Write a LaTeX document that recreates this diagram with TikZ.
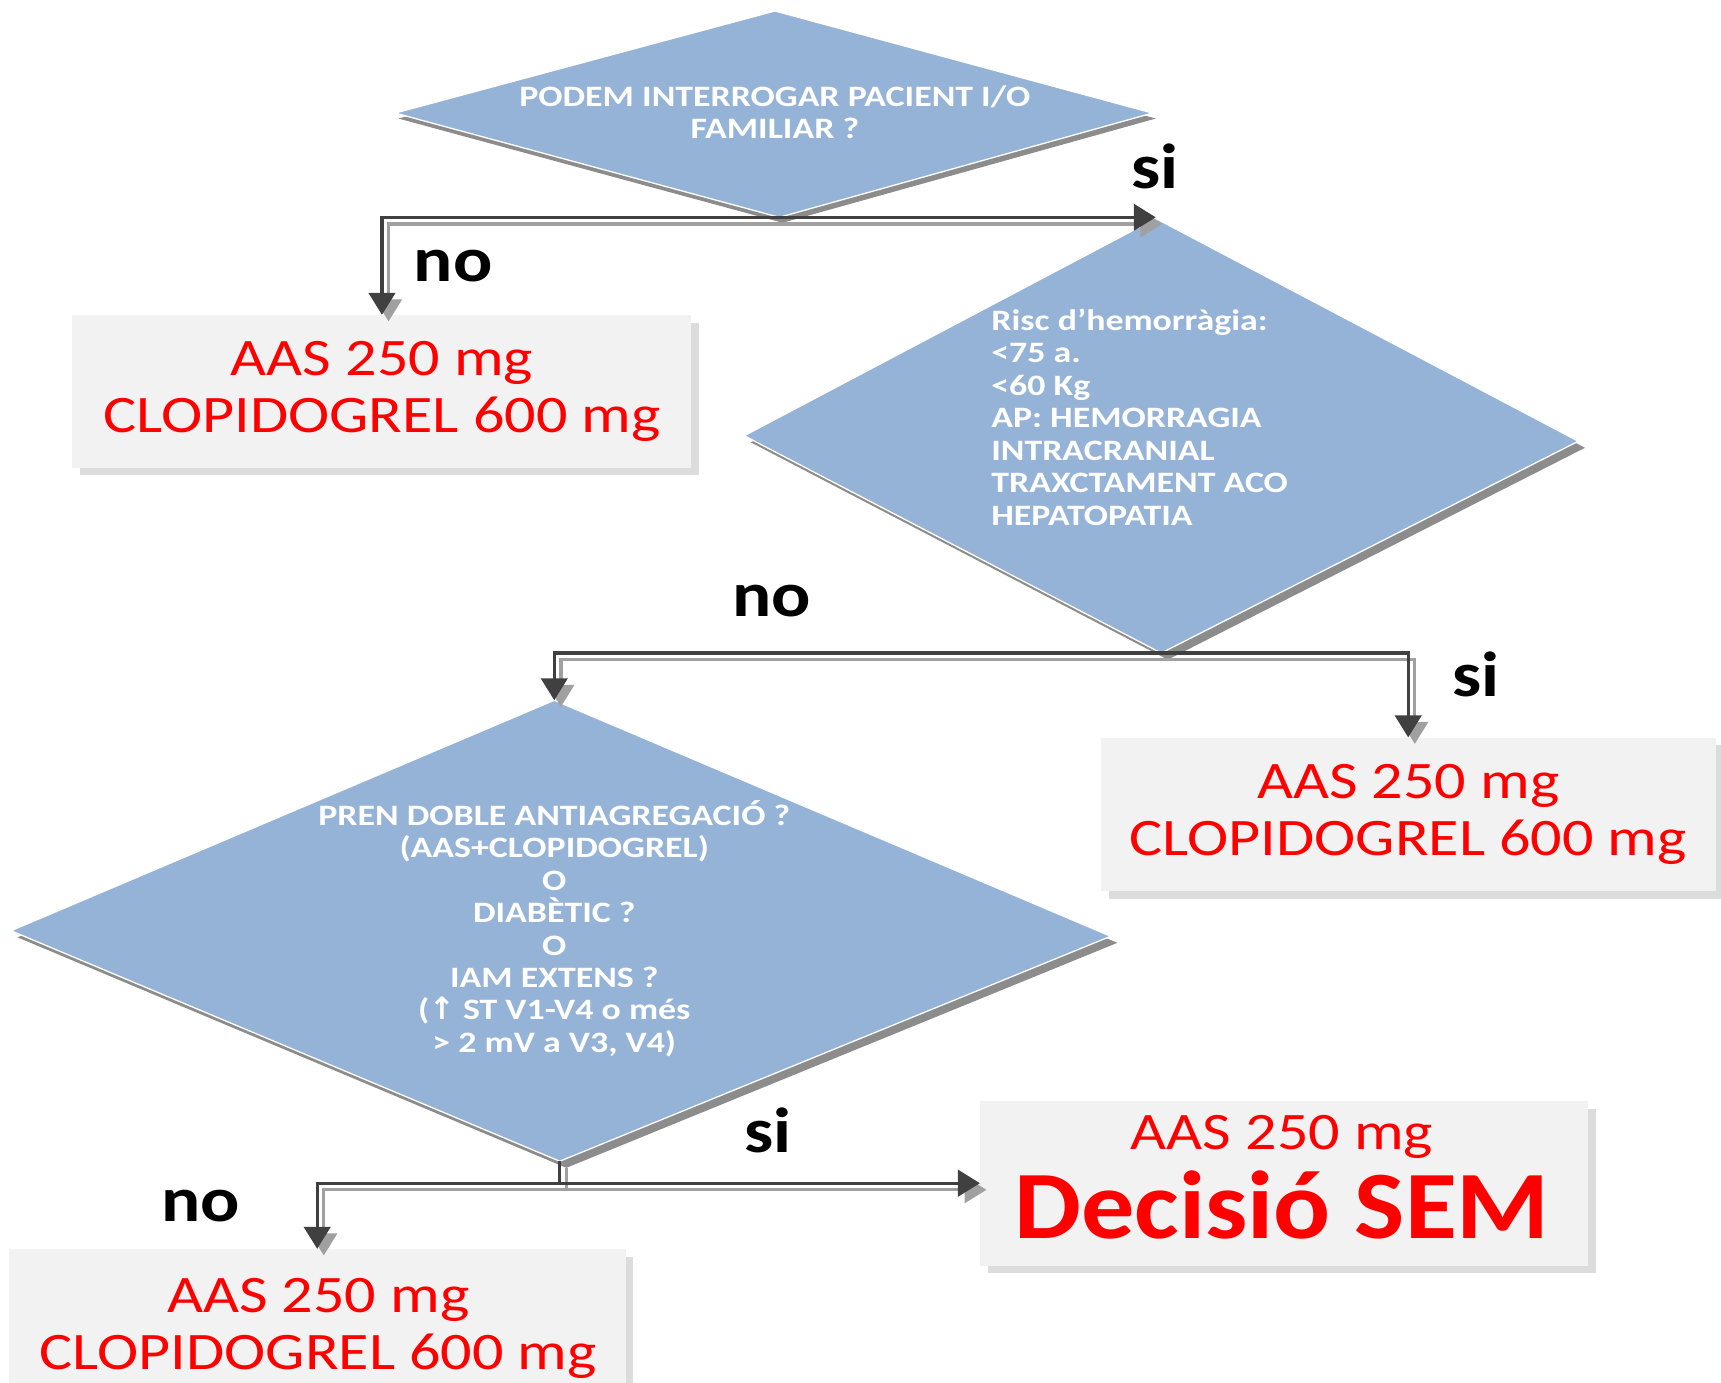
\documentclass[tikz,border=0pt]{standalone}
\usepackage{fontspec}
\setmainfont{Carlito}
\newfontfamily\dosefont{Carlito}[FakeStretch=1.18]
\newfontfamily\semfont{Carlito}[FakeStretch=1.1]
\newfontfamily\qfont{Carlito}[FakeStretch=1.21]
\newfontfamily\lblfont{Carlito}[FakeStretch=1.15]
\newfontfamily\symfont{DejaVu Sans}
\usetikzlibrary{arrows.meta}

\definecolor{diablue}{HTML}{95B3D7}
\definecolor{diashadow}{HTML}{8C8C8C}
\definecolor{boxfill}{HTML}{F2F2F2}
\definecolor{boxshadow}{HTML}{DCDCDC}
\definecolor{linedark}{HTML}{404040}
\definecolor{linelight}{HTML}{A0A0A0}
\definecolor{dosered}{HTML}{FF0000}

\tikzset{
  decision/.style={fill=diablue, draw=white, line width=1.2},
  decisionshade/.style={fill=diashadow, transform canvas={shift={(#1)}}},
  qtext/.style={text=white, inner sep=0, font=\qfont\bfseries\fontsize{27}{29.6}\selectfont},
  dosebox/.style={fill=boxfill, inner sep=0,
    preaction={fill=boxshadow, transform canvas={shift={(7,7)}}}},
  dosetext/.style={text=dosered, align=center, inner sep=0,
    font=\dosefont\fontsize{48}{52}\selectfont},
  answer/.style={text=black, inner sep=0, font=\lblfont\bfseries\fontsize{58}{60}\selectfont},
  wire/.style={draw=linedark, line width=3, -{Triangle[length=20,width=24]}},
  wireshade/.style={draw=linelight, line width=3, -{Triangle[length=20,width=24]},
    transform canvas={shift={(6,6)}}},
}
\newcommand\linkpath[1]{\draw[wireshade] #1; \draw[wire] #1;}

\begin{document}
\begin{tikzpicture}[x=1pt, y=-1pt]
\useasboundingbox (0,0) rectangle (1568,1260);

% first question
\coordinate (q1t) at (706,10);
\coordinate (q1l) at (360,103);
\coordinate (q1r) at (1050,103);
\coordinate (q1b) at (710,198);
\fill[decisionshade={3,5}] (q1t) -- (q1r) -- (q1b) -- (q1l) -- cycle;
\draw[decision] (q1t) -- (q1r) -- (q1b) -- (q1l) -- cycle;
\node[qtext, align=center] (q1) at (706,102) {PODEM INTERROGAR PACIENT I/O\\FAMILIAR ?};

% bleeding risk question
\coordinate (q2t) at (1053,199);
\coordinate (q2l) at (678,397);
\coordinate (q2r) at (1438,402);
\coordinate (q2b) at (1058,595);
\fill[decisionshade={6,6}] (q2t) -- (q2r) -- (q2b) -- (q2l) -- cycle;
\draw[decision] (q2t) -- (q2r) -- (q2b) -- (q2l) -- cycle;
\node[qtext, align=left, anchor=west] (q2) at (903,380)
  {Risc d’hemorràgia:\\<75 a.\\<60 Kg\\AP: HEMORRAGIA\\INTRACRANIAL\\TRAXCTAMENT ACO\\HEPATOPATIA};

% antiplatelet / diabetes / extensive MI question
\coordinate (q3t) at (505,638);
\coordinate (q3l) at (10,848);
\coordinate (q3r) at (1012,853);
\coordinate (q3b) at (510,1058);
\fill[decisionshade={6,6}] (q3t) -- (q3r) -- (q3b) -- (q3l) -- cycle;
\draw[decision] (q3t) -- (q3r) -- (q3b) -- (q3l) -- cycle;
\node[qtext, align=center] (q3) at (505,846)
  {PREN DOBLE ANTIAGREGACIÓ ?\\(AAS+CLOPIDOGREL)\\O\\DIABÈTIC ?\\O\\IAM EXTENS ?\\
   ({\symfont\bfseries\fontsize{28}{24}\selectfont ↑} ST V1-V4 o més\\> 2 mV a V3, V4)};

% dose boxes
\node[dosebox, minimum width=564, minimum height=139] (b1) at (348,356.5) {};
\node[dosetext] (b1t) at (b1) {AAS 250 mg\\CLOPIDOGREL 600 mg};

\node[dosebox, minimum width=560, minimum height=140] (b2) at (1283,742) {};
\node[dosetext] (b2t) at (b2) {AAS 250 mg\\CLOPIDOGREL 600 mg};

\node[dosebox, minimum width=562, minimum height=140] (b3) at (289,1208) {};
\node[dosetext] (b3t) at (290,1210) {AAS 250 mg\\CLOPIDOGREL 600 mg};

\node[dosebox, minimum width=554, minimum height=150] (b4) at (1170,1078) {};
\node[dosetext] (b4a) at (1168,1036) {AAS 250 mg};
\node[text=dosered, inner sep=0, font=\semfont\bfseries\fontsize{88}{90}\selectfont]
  (b4b) at (1168,1098) {Decisió SEM};

% answers
\node[answer] (a1si) at (1052,152) {si};
\node[answer] (a1no) at (413,242) {no};
\node[answer] (a2no) at (703,548) {no};
\node[answer] (a2si) at (1345,614) {si};
\node[answer] (a3si) at (700,1030) {si};
\node[answer] (a3no) at (183,1099) {no};

% connectors
\coordinate (j3) at (510,1078);
\linkpath{(q1b) -| (b1.north)}
\linkpath{(q1b) -- (q1b -| q2t)}
\linkpath{(q2b) -| (q3t)}
\linkpath{(q2b) -| (b2.north)}
\linkpath{(q3b) -- (j3) -| (b3.north)}
\linkpath{(q3b) -- (j3) -- (j3 -| b4.west)}
\end{tikzpicture}
\end{document}
